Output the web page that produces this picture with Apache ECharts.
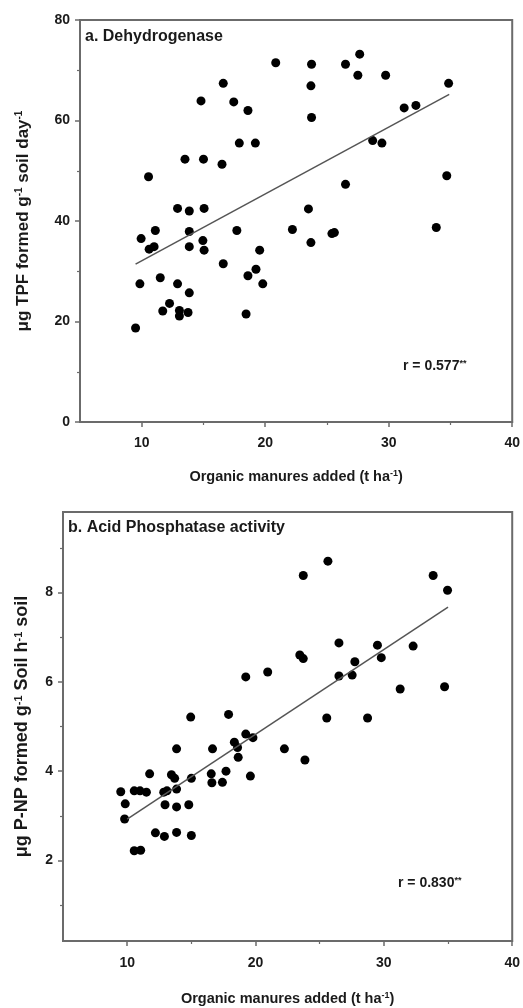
<!DOCTYPE html>
<html>
<head>
<meta charset="utf-8">
<script src="https://cdn.jsdelivr.net/npm/echarts@6/dist/echarts.min.js"></script>
<style>
  html, body { margin: 0; padding: 0; background: #fff; }
  #chart { width: 523px; height: 1008px; }
</style>
</head>
<body>
<div id="chart"></div>
<script>
// a. dehydrogenase: [organic manure t/ha, ug TPF]
const dehydrogenase = [
  [9.5, 18.7], [9.85, 27.5], [9.95, 36.5], [10.55, 48.8], [10.6, 34.4],
  [11.0, 34.9], [11.1, 38.1], [11.5, 28.7], [11.7, 22.1], [12.25, 23.6],
  [12.9, 27.5], [12.9, 42.5], [13.05, 22.2], [13.05, 21.1], [13.5, 52.3],
  [13.75, 21.8], [13.85, 25.7], [13.85, 34.9], [13.85, 37.9], [13.85, 42.0],
  [14.8, 63.9], [14.95, 36.1], [15.0, 52.3], [15.05, 42.5], [15.05, 34.2],
  [16.5, 51.3], [16.6, 67.4], [16.6, 31.5], [17.45, 63.7], [17.7, 38.1],
  [17.9, 55.5], [18.45, 21.5], [18.6, 62.0], [18.6, 29.1], [19.2, 55.5],
  [19.25, 30.4], [19.55, 34.2], [19.8, 27.5], [20.85, 71.5], [22.2, 38.3],
  [23.5, 42.4], [23.7, 66.9], [23.75, 71.2], [23.75, 60.6], [23.7, 35.7],
  [25.4, 37.5], [25.6, 37.7], [26.5, 71.2], [26.5, 47.3], [27.5, 69.0],
  [27.65, 73.2], [28.7, 56.0], [29.45, 55.5], [29.75, 69.0], [31.25, 62.5],
  [32.2, 63.0], [33.85, 38.7], [34.7, 49.0], [34.85, 67.4]
];
const dehydrogenaseFit = [[9.5, 31.4], [34.9, 65.2]];

// b. acid phosphatase: [organic manure t/ha, ug P-NP]
const phosphatase = [
  [9.5, 3.54], [9.85, 3.27], [9.8, 2.93], [10.55, 3.56], [10.55, 2.22],
  [11.0, 3.56], [11.05, 2.23], [11.5, 3.53], [11.75, 3.94], [12.2, 2.62],
  [12.85, 3.53], [12.9, 2.54], [12.95, 3.25], [13.1, 3.56], [13.45, 3.92],
  [13.7, 3.84], [13.85, 3.6], [13.85, 3.2], [13.85, 2.63], [13.85, 4.5],
  [14.8, 3.25], [14.95, 5.21], [15.0, 3.84], [15.0, 2.56], [16.55, 3.94],
  [16.6, 3.74], [16.65, 4.5], [17.42, 3.75], [17.7, 4.0], [17.9, 5.27],
  [18.35, 4.65], [18.6, 4.53], [18.65, 4.31], [19.24, 4.83], [19.24, 6.11],
  [19.6, 3.89], [19.8, 4.75], [20.95, 6.22], [22.25, 4.5], [23.45, 6.6],
  [23.72, 8.38], [23.72, 6.52], [23.85, 4.25], [25.55, 5.19], [25.64, 8.7],
  [26.5, 6.87], [26.5, 6.13], [27.53, 6.15], [27.74, 6.45], [28.73, 5.19],
  [29.5, 6.82], [29.8, 6.54], [31.27, 5.84], [32.28, 6.8], [33.84, 8.38],
  [34.73, 5.89], [34.96, 8.05]
];
const phosphataseFit = [[10.0, 2.93], [35.0, 7.67]];

const xTicks = [10, 20, 30, 40];
const xMinorTicks = [15, 25, 35];
const dehydroTicks = [0, 20, 40, 60, 80];
const dehydroMinorTicks = [10, 30, 50, 70];
const phosTicks = [2, 4, 6, 8];
const phosMinorTicks = [1, 3, 5, 7, 9];

const font = "'Liberation Sans', Arial, sans-serif";
const axisColor = "#6b6b6b";
const textColor = "#1a1a1a";

function nameRich(size) {
  return {
    t: { fontFamily: font, fontWeight: "bold", fontSize: size, color: textColor },
    s: { fontFamily: font, fontWeight: "bold", fontSize: Math.round(size * 0.6), color: textColor,
         verticalAlign: "top", padding: [0, 0, Math.round(size * 0.45), 0] }
  };
}

function mainX(grid, nameGap, margin) {
  return {
    type: "value", gridIndex: grid, min: 5, max: 40, position: "bottom",
    name: "{t|Organic manures added (t ha}{s|-1}{t|)}",
    nameLocation: "middle", nameGap: nameGap,
    nameTextStyle: { rich: nameRich(14.5) },
    splitLine: { show: false },
    axisLine: { lineStyle: { color: axisColor, width: 2 } },
    axisTick: { customValues: xTicks, length: 5, lineStyle: { color: axisColor, width: 1.5 } },
    axisLabel: { customValues: xTicks, margin: margin, fontFamily: font, fontWeight: "bold", fontSize: 14, color: textColor }
  };
}
function minorX(grid) {
  return {
    type: "value", gridIndex: grid, min: 5, max: 40, position: "bottom",
    splitLine: { show: false }, axisLine: { show: false }, axisLabel: { show: false },
    axisTick: { customValues: xMinorTicks, length: 3, lineStyle: { color: axisColor, width: 1.2 } }
  };
}
function mainY(grid, min, max, ticks, name, nameSize, nameGap, margin) {
  return {
    type: "value", gridIndex: grid, min: min, max: max, position: "left",
    name: name, nameLocation: "middle", nameGap: nameGap,
    nameTextStyle: { rich: nameRich(nameSize) },
    splitLine: { show: false },
    axisLine: { lineStyle: { color: axisColor, width: 2 } },
    axisTick: { customValues: ticks, length: 5, lineStyle: { color: axisColor, width: 1.5 } },
    axisLabel: { customValues: ticks, margin: margin, fontFamily: font, fontWeight: "bold", fontSize: 14, color: textColor }
  };
}
function minorY(grid, min, max, ticks) {
  return {
    type: "value", gridIndex: grid, min: min, max: max, position: "left",
    splitLine: { show: false }, axisLine: { show: false }, axisLabel: { show: false },
    axisTick: { customValues: ticks, length: 3, lineStyle: { color: axisColor, width: 1.2 } }
  };
}
function rText(value) {
  return {
    text: "{t|r = " + value + "}{s|**}",
    rich: {
      t: { fontFamily: font, fontWeight: "bold", fontSize: 14, fill: textColor },
      s: { fontFamily: font, fontWeight: "bold", fontSize: 9, fill: textColor, verticalAlign: "top" }
    }
  };
}

const chart = echarts.init(document.getElementById("chart"));

const option = {
  backgroundColor: "#fff",
  animation: false,
  title: [
    { text: "a. Dehydrogenase", left: 85, top: 29, padding: 0,
      textStyle: { fontFamily: font, fontWeight: "bold", fontSize: 16, color: textColor } },
    { text: "b. Acid Phosphatase activity", left: 68, top: 520, padding: 0,
      textStyle: { fontFamily: font, fontWeight: "bold", fontSize: 16, color: textColor } }
  ],
  grid: [
    { left: 80, right: 10, top: 20, bottom: 586, show: true, borderColor: axisColor, borderWidth: 2 },
    { left: 63, right: 10, top: 512, bottom: 67, show: true, borderColor: axisColor, borderWidth: 2 }
  ],
  xAxis: [mainX(0, 47, 14), minorX(0), mainX(1, 50, 15), minorX(1)],
  yAxis: [
    mainY(0, 0, 80, dehydroTicks, "{t|μg TPF formed g}{s|-1}{t| soil day}{s|-1}", 17, 48, 10),
    minorY(0, 0, 80, dehydroMinorTicks),
    mainY(1, 0.2, 9.8, phosTicks, "{t|μg P-NP formed g}{s|-1}{t| Soil h}{s|-1}{t| soil}", 18, 31, 10),
    minorY(1, 0.2, 9.8, phosMinorTicks)
  ],
  series: [
    { type: "scatter", xAxisIndex: 0, yAxisIndex: 0, data: dehydrogenase,
      symbolSize: 9, itemStyle: { color: "#000", opacity: 1 } },
    { type: "line", xAxisIndex: 0, yAxisIndex: 0, data: dehydrogenaseFit,
      symbol: "none", lineStyle: { color: "#555", width: 1.5 } },
    { type: "scatter", xAxisIndex: 2, yAxisIndex: 2, data: phosphatase,
      symbolSize: 9, itemStyle: { color: "#000", opacity: 1 } },
    { type: "line", xAxisIndex: 2, yAxisIndex: 2, data: phosphataseFit,
      symbol: "none", lineStyle: { color: "#555", width: 1.5 } }
  ],
  graphic: [
    { type: "text", left: 403, top: 359, style: rText("0.577") },
    { type: "text", left: 398, top: 876, style: rText("0.830") }
  ]
};

chart.setOption(option);
</script>
</body>
</html>
